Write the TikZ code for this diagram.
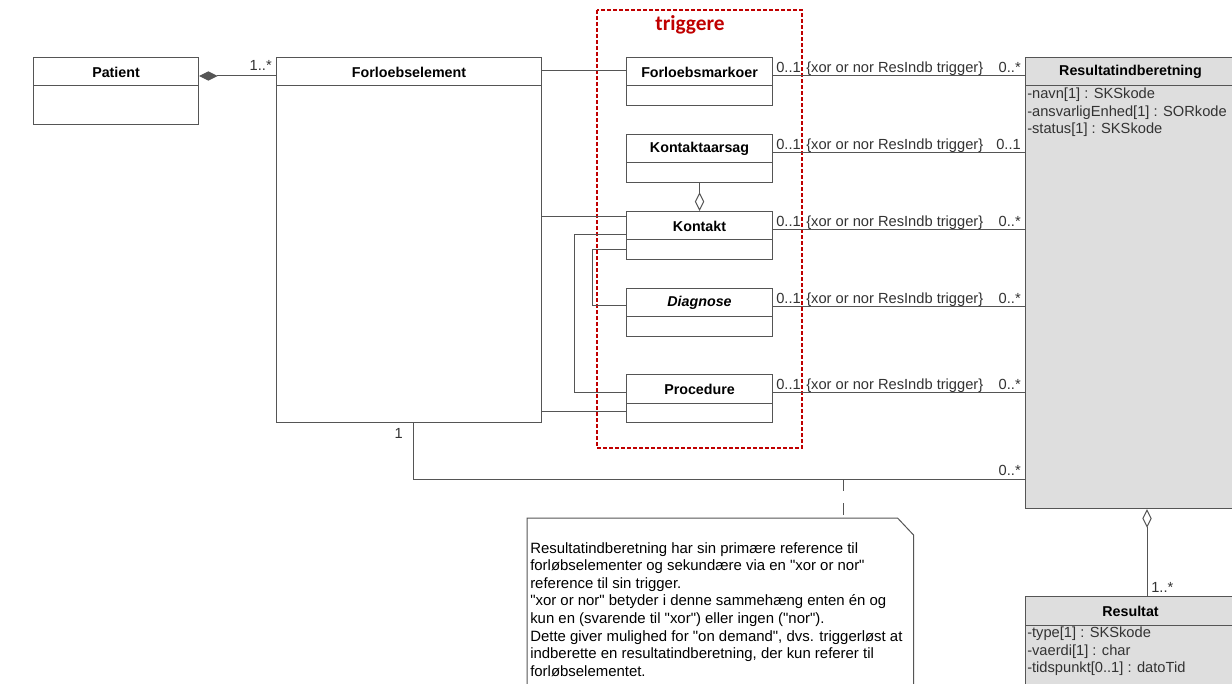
\documentclass[tikz,border=0pt]{standalone}
\usepackage{fontspec}
\setmainfont{Liberation Sans}
\newfontfamily\notefont{Liberation Sans}
\newfontfamily\calib{Carlito}
\usetikzlibrary{calc,arrows.meta}
\definecolor{linec}{HTML}{555555}
\definecolor{grayfill}{HTML}{DEDEDE}
\definecolor{trigred}{HTML}{C00000}
\definecolor{attrc}{HTML}{333333}
\tikzset{
  cls/.style={draw=linec, line width=0.8pt, anchor=north west, inner sep=0pt},
  ctitle/.style={font=\fontsize{10.7}{12}\selectfont\bfseries, anchor=center, inner sep=0pt},
  conn/.style={draw=linec, line width=0.75pt},
  lbl/.style={font=\fontsize{11}{12}\selectfont, text=attrc, inner sep=0pt},
  attr/.style={font=\fontsize{11}{13}\selectfont, text=attrc, inner sep=0pt, anchor=north west, align=left},
  agg/.tip={Diamond[open,length=14pt,width=7pt]},
  comp/.tip={Diamond[length=14pt,width=7pt]},
}
\newcommand\umlclass[7]{%
  \node[cls, fill=#7, minimum width=#4*0.75pt, minimum height=#5*0.75pt] (#1) at (#2,#3) {};
  \draw[conn] ($(#1.north west)+(0,29)$) -- ($(#1.north east)+(0,29)$);
  \node[ctitle] (#1-t) at ($(#1.north)+(0,15)$) {#6};
}
\begin{document}
\begin{tikzpicture}[x=0.75pt,y=-0.75pt]
\useasboundingbox (0,0) rectangle (1232,684);
\clip (0,0) rectangle (1232,684);
\fill[white] (0,0) rectangle (1232,684);

% trigger group
\draw[trigred, line width=0.8pt, dash pattern=on 3pt off 1.5pt] (597,10) rectangle (802,448);
\node[font=\calib\fontsize{16}{18}\selectfont\bfseries, text=trigred, inner sep=0pt] (trig) at (690,25) {triggere};

% classes
\umlclass{pat}{33}{57}{165}{67}{Patient}{white}
\umlclass{fe}{276}{57}{265}{365}{Forloebselement}{white}
\umlclass{fm}{626}{57}{146}{48}{Forloebsmarkoer}{white}
\umlclass{ka}{626}{134}{146}{48}{Kontaktaarsag}{white}
\umlclass{kt}{626}{211}{146}{48}{Kontakt}{white}
\umlclass{dg}{626}{288}{146}{48}{\itshape Diagnose}{white}
\umlclass{pr}{626}{374}{146}{48}{Procedure}{white}
\umlclass{ri}{1025}{57}{210}{451}{Resultatindberetning}{grayfill}
\umlclass{rs}{1025}{596}{210}{110}{Resultat}{grayfill}

\node[attr] (ri-a) at ($(ri.north west)+(2,31)$) {-navn[1] : SKSkode\\-ansvarligEnhed[1] : SORkode\\-status[1] : SKSkode};
\node[attr] (rs-a) at ($(rs.north west)+(2,31)$) {-type[1] : SKSkode\\-vaerdi[1] : char\\-tidspunkt[0..1] : datoTid};

% Patient -- Forloebselement (composition)
\draw[conn, {comp}-] ($(pat.north east)+(0,19)$) -- ($(fe.north west)+(0,19)$);
\node[lbl, anchor=base east] at ($(fe.north west)+(-4,14)$) {1..*};

% Forloebselement -- triggers
\draw[conn] ($(fe.north east)+(0,14)$) -- ($(fm.north west)+(0,14)$);
\draw[conn] ($(fe.north east)+(0,160)$) -- ($(kt.north west)+(0,6)$);
\draw[conn] ($(fe.north east)+(0,354)$) -- ($(pr.north west)+(0,37)$);

% Kontakt -- Procedure, Kontakt -- Diagnose
\draw[conn] ($(kt.north west)+(0,24)$) -- ++(-52,0) |- ($(pr.north west)+(0,18)$);
\draw[conn] ($(kt.north west)+(0,39)$) -- ++(-34,0) |- ($(dg.north west)+(0,18)$);

% Kontaktaarsag -- Kontakt (aggregation)
\draw[conn, -{agg}] (ka.south) -- (kt.north);

% triggers -- Resultatindberetning
\foreach \src/\sy/\ry/\rm in {fm/19/19/0..*, ka/19/96/0..1, kt/19/173/0..*, dg/19/250/0..*, pr/18/335/0..*}{
  \draw[conn] ($(\src.north east)+(0,\sy)$) -- ($(ri.north west)+(0,\ry)$);
  \node[lbl, anchor=base west] at ($(\src.north east)+(3,\sy-3)$) {0..1};
  \node[lbl, anchor=base west] at ($(\src.north east)+(33,\sy-3)$) {\{xor or nor ResIndb trigger\}};
  \node[lbl, anchor=base east] at ($(ri.north west)+(-4,\ry-3)$) {\rm};
}

% Forloebselement -- Resultatindberetning
\draw[conn] ($(fe.south west)+(137,0)$) |- ($(ri.north west)+(0,422)$);
\node[lbl, anchor=base east] at ($(fe.south west)+(127,15)$) {1};
\node[lbl, anchor=base east] at ($(ri.north west)+(-4,418)$) {0..*};
\coordinate (anchorpt) at ($(ri.north west)+(-182,422)$);

% Resultatindberetning -- Resultat (aggregation)
\draw[conn, {agg}-] ($(ri.south west)+(122,0)$) -- ($(rs.north west)+(122,0)$);
\node[lbl, anchor=base west] at ($(rs.north west)+(126,-4)$) {1..*};

% note
\node[anchor=north west, inner sep=0pt, minimum width=386*0.75pt, minimum height=200*0.75pt] (note) at (527,518) {};
\draw[conn, fill=white] (note.south west) -- (note.north west) -- ($(note.north east)+(-16,0)$) -- ($(note.north east)+(0,17)$) -- (note.south east);
\node[anchor=north west, inner sep=0pt, align=left, font=\notefont\fontsize{11.2}{13.2}\selectfont] (notetext) at ($(note.north west)+(3,24)$) {Resultatindberetning har sin primære reference til\\forløbselementer og sekundære via en "xor or nor"\\reference til sin trigger.\\"xor or nor" betyder i denne sammehæng enten én og\\kun en (svarende til "xor") eller ingen ("nor").\\Dette giver mulighed for "on demand", dvs. triggerløst at\\indberette en resultatindberetning, der kun referer til\\forløbselementet.};
\draw[conn, dash pattern=on 9pt off 9pt] (anchorpt) -- (anchorpt |- note.north);
\end{tikzpicture}
\end{document}
